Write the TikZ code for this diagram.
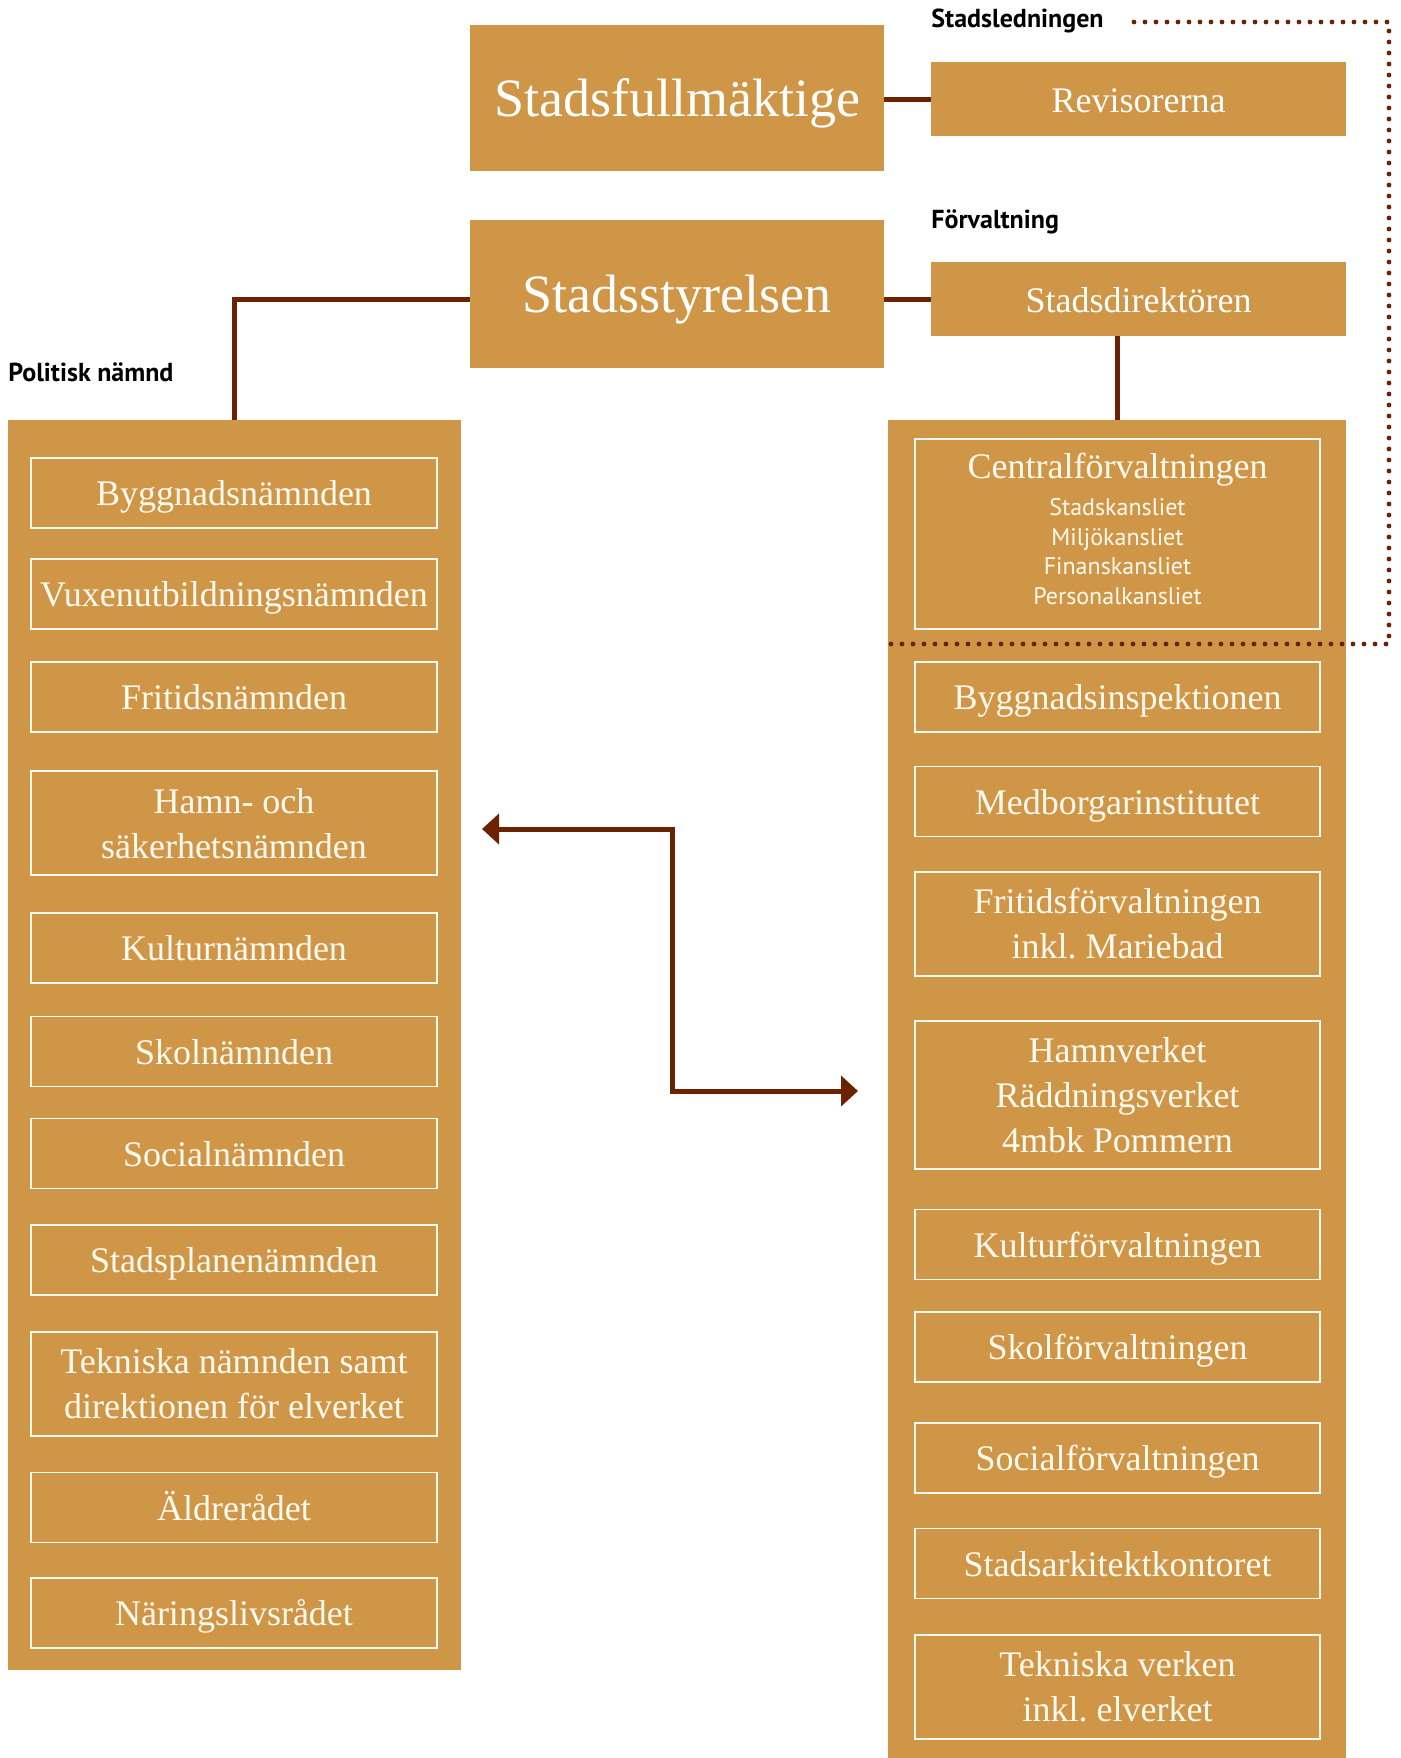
\documentclass[tikz,border=0pt]{standalone}
\usepackage{fontspec}
\setmainfont{Liberation Serif}
\newfontfamily\labelfont{PT Sans}
\usetikzlibrary{arrows.meta}
\definecolor{ochre}{RGB}{207,150,72}
\definecolor{brn}{RGB}{107,34,0}
\definecolor{cream}{RGB}{255,250,240}
\frenchspacing
\begin{document}
\frenchspacing
\begin{tikzpicture}[x=0.5pt,y=-0.5pt,
  panel/.style={fill=ochre, draw=none, inner sep=0pt},
  bigbox/.style={fill=ochre, text=white, inner sep=0pt, minimum width=207pt,
    text height=21.5pt, text depth=3pt,
    font=\fontsize{27}{30}\selectfont},
  midbox/.style={fill=ochre, text=white, inner sep=0pt, minimum width=207.5pt,
    minimum height=37pt, text height=15pt, text depth=2pt,
    font=\fontsize{18}{22.5}\selectfont},
  item/.style={draw=cream, line width=0.75pt, fill=ochre, text=cream, inner sep=0pt,
    align=center, font=\fontsize{18}{22.5}\selectfont},
  litem/.style={item, minimum width=203pt},
  ritem/.style={item, minimum width=202.5pt},
  one/.style={minimum height=35pt, text height=14pt, text depth=1.5pt},
  sub/.style={text=cream, inner sep=0pt, anchor=base, font=\labelfont\fontsize{12}{14}\selectfont},
  lbl/.style={inner sep=0pt, anchor=base west, font=\labelfont\bfseries\fontsize{13}{15}\selectfont},
  conn/.style={draw=brn, line width=2.5pt},
  dots/.style={draw=brn, line width=2.4pt, line cap=round, dash pattern=on 0pt off 5.5pt},
]
\useasboundingbox (0,0) rectangle (1401,1758);

% top boxes
\node[bigbox, minimum height=73pt] (sfm) at (677,98) {Stadsfullmäktige};
\node[midbox] (rev) at (1138.5,99) {Revisorerna};
\node[bigbox, minimum height=74pt] (sst) at (677,294) {Stadsstyrelsen};
\node[midbox] (sdir) at (1138.5,299) {Stadsdirektören};

% labels
\node[lbl] (lled) at (931,27) {Stadsledningen};
\node[lbl] (lforv) at (931,228) {Förvaltning};
\node[lbl] (lpol) at (8,381) {Politisk nämnd};

% panels
\node[panel, minimum width=226.5pt, minimum height=625pt] (lp) at (234.5,1045) {};
\node[panel, minimum width=229pt, minimum height=669pt] (rp) at (1117,1089) {};

% left items
\node[litem, one] (n1) at (234,493) {Byggnadsnämnden};
\node[litem, one] (n2) at (234,594) {Vuxenutbildningsnämnden};
\node[litem, one] (n3) at (234,697) {Fritidsnämnden};
\node[litem, minimum height=52pt, text depth=-3pt] (n4) at (234,823) {Hamn- och\\säkerhetsnämnden};
\node[litem, one] (n5) at (234,948) {Kulturnämnden};
\node[litem, one] (n6) at (234,1051.5) {Skolnämnden};
\node[litem, one] (n7) at (234,1153.5) {Socialnämnden};
\node[litem, one] (n8) at (234,1260) {Stadsplanenämnden};
\node[litem, minimum height=52pt] (n9) at (234,1384) {Tekniska nämnden samt\\direktionen för elverket};
\node[litem, one] (n10) at (234,1507.5) {Äldrerådet};
\node[litem, one] (n11) at (234,1613) {Näringslivsrådet};

% right items
\node[ritem, minimum height=95pt] (cf) at (1117.5,534) {};
\node[inner sep=0pt, anchor=base, text=cream, font=\fontsize{18}{22.5}\selectfont] (cft) at (1117.5,478) {Centralförvaltningen};
\node[sub] (cf1) at (1117.5,515.5) {Stadskansliet};
\node[sub] (cf2) at (1117.5,545) {Miljökansliet};
\node[sub] (cf3) at (1117.5,574.5) {Finanskansliet};
\node[sub] (cf4) at (1117.5,604) {Personalkansliet};
\node[ritem, one] (f1) at (1117.5,697) {Byggnadsinspektionen};
\node[ritem, one] (f2) at (1117.5,801.5) {Medborgarinstitutet};
\node[ritem, minimum height=52pt] (f3) at (1117.5,924) {Fritidsförvaltningen\\inkl. Mariebad};
\node[ritem, minimum height=74pt] (f4) at (1117.5,1095) {Hamnverket\\Räddningsverket\\4mbk Pommern};
\node[ritem, one] (f5) at (1117.5,1244.5) {Kulturförvaltningen};
\node[ritem, one] (f6) at (1117.5,1347) {Skolförvaltningen};
\node[ritem, one] (f7) at (1117.5,1458) {Socialförvaltningen};
\node[ritem, one] (f8) at (1117.5,1563.5) {Stadsarkitektkontoret};
\node[ritem, minimum height=52pt] (f9) at (1117.5,1687) {Tekniska verken\\inkl. elverket};

% connectors
\draw[conn] (sfm.east |- rev.west) -- (rev.west);
\draw[conn] (sst.east |- sdir.west) -- (sdir.west);
\draw[conn] (sst.west |- sdir.west) -| (lp.north);
\draw[conn] (cf.north |- sdir.south) -- (cf.north |- rp.north);

% dotted boundary
\coordinate (d0) at (1134,22);
\coordinate (d1) at (1389,22);
\coordinate (d2) at (1389,644);
\coordinate (d3) at (888,644);
\draw[dots] (d0) -- (d1) -- (d2) -- (d3);

% double arrow
\coordinate (aL) at (482,829);
\coordinate (aR) at (858,1091);
\coordinate (m1) at (672,829);
\coordinate (m2) at (672,1091);
\draw[conn, line join=miter, {Triangle[length=8.5pt,width=15pt]}-{Triangle[length=8.5pt,width=15pt]}] (aL) -- (m1) -- (m2) -- (aR);
\end{tikzpicture}
\end{document}
